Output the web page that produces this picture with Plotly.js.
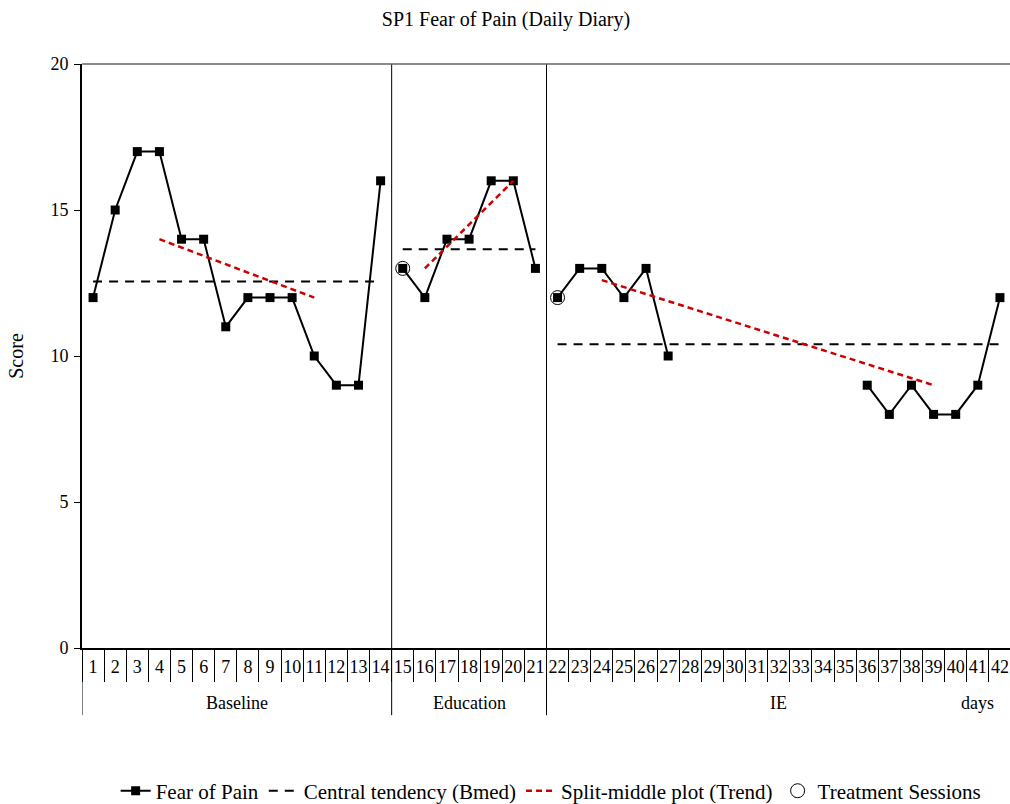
<!DOCTYPE html>
<html>
<head>
<meta charset="utf-8">
<script src="https://cdn.plot.ly/plotly-3.0.1.min.js"></script>
<style>
  html, body { margin: 0; padding: 0; overflow: hidden; background: #fff; }
  #chart { width: 1012px; height: 804px; }
</style>
</head>
<body>
<div id="chart"></div>
<script>
// Daily diary scores, days 1-42 (null = no entry)
const days = Array.from({length: 42}, (_, i) => i + 1);
const fearOfPain = [12, 15, 17, 17, 14, 14, 11, 12, 12, 12, 10, 9, 9, 16,
                    13, 12, 14, 14, 16, 16, 13,
                    12, 13, 13, 12, 13, 10, null, null, null, null, null, null, null, null,
                    9, 8, 9, 8, 8, 9, 12];

// Phases: [first day, last day]
const phaseNames = ['Baseline', 'Education', 'IE'];
const phaseStart = [1, 15, 22];
const phaseEnd = [14, 21, 42];

// Central tendency (Bmed) per phase
const bmed = [12.55, 13.66, 10.4];

// Split-middle trend lines per phase: [x0, x1], [y0, y1]
const trendX = [[4, 11], [16, 20], [24, 39]];
const trendY = [[14.0, 12.0], [13.0, 16.0], [12.6, 9.0]];

// Treatment session days
const sessionDays = [15, 22];

// Group label positions along the day axis
const groupLabels = ['Baseline', 'Education', 'IE', 'days'];
const groupLabelX = [7.5, 18, 32, 41];

const yTicks = [0, 5, 10, 15, 20];

const FONT = 'Liberation Serif, Times New Roman, serif';
const traces = [];

phaseNames.forEach((name, p) => {
  const xs = days.filter(d => d >= phaseStart[p] && d <= phaseEnd[p]);
  const ys = xs.map(d => fearOfPain[d - 1]);
  traces.push({
    x: xs, y: ys, type: 'scatter', mode: 'lines+markers',
    name: 'Fear of Pain', legendgroup: 'fop', showlegend: p === 0,
    connectgaps: false,
    line: {color: '#000', width: 2},
    marker: {symbol: 'square', size: 9, color: '#000'},
    cliponaxis: false
  });
});

phaseNames.forEach((name, p) => {
  traces.push({
    x: [phaseStart[p], phaseEnd[p]], y: [bmed[p], bmed[p]],
    type: 'scatter', mode: 'lines',
    name: 'Central tendency (Bmed)', legendgroup: 'bmed', showlegend: p === 0,
    line: {color: '#000', width: 2, dash: '9px,7px'}
  });
});

phaseNames.forEach((name, p) => {
  traces.push({
    x: trendX[p], y: trendY[p],
    type: 'scatter', mode: 'lines',
    name: 'Split-middle plot (Trend)', legendgroup: 'trend', showlegend: p === 0,
    line: {color: '#CC0000', width: 2.5, dash: '6px,4px'}
  });
});

traces.push({
  x: sessionDays, y: sessionDays.map(d => fearOfPain[d - 1]),
  type: 'scatter', mode: 'markers',
  name: 'Treatment Sessions',
  marker: {symbol: 'circle-open', size: 14, color: '#000', line: {width: 1, color: '#000'}},
  cliponaxis: false
});

// Category separators on the tick strip
const sepVals = Array.from({length: 43}, (_, i) => i + 0.5);
traces.push({
  x: [0.5], y: [null], xaxis: 'x2', yaxis: 'y', type: 'scatter', mode: 'lines',
  showlegend: false, hoverinfo: 'skip'
});

const shapes = [];
// Phase change lines through the plot and down through the label strip
[phaseEnd[0] + 0.5, phaseEnd[1] + 0.5].forEach(x => {
  shapes.push({type: 'line', xref: 'x', yref: 'paper', x0: x, x1: x, y0: 0, y1: 1,
               line: {color: '#000', width: 1}});
});
[0.5, phaseEnd[0] + 0.5, phaseEnd[1] + 0.5].forEach(x => {
  shapes.push({type: 'line', xref: 'x', yref: 'paper', x0: x, x1: x, y0: 0, y1: -0.115,
               line: {color: '#000', width: 1}});
});
// Top border
shapes.push({type: 'line', xref: 'paper', yref: 'paper', x0: 0, x1: 1, y0: 1, y1: 1,
             line: {color: '#666', width: 1.5}});

const annotations = groupLabels.map((t, i) => ({
  text: t, x: groupLabelX[i], xref: 'x', y: -0.094, yref: 'paper',
  showarrow: false, font: {family: FONT, size: 18, color: '#000'},
  xanchor: 'center', yanchor: 'middle'
}));

const layout = {
  width: 1012, height: 804,
  margin: {l: 82, r: 1, t: 64, b: 156, autoexpand: false},
  paper_bgcolor: '#fff', plot_bgcolor: '#fff',
  font: {family: FONT, size: 18, color: '#000'},
  title: {text: 'SP1 Fear of Pain (Daily Diary)', x: 0.5, xref: 'container', y: 0.976, yanchor: 'middle',
          font: {family: FONT, size: 20, color: '#000'}},
  xaxis: {
    range: [0.5, 42.5], tickmode: 'array', tickvals: days, ticktext: days.map(String),
    ticks: '', showgrid: false, zeroline: false, showline: true, linecolor: '#000', linewidth: 1.5,
    tickfont: {family: FONT, size: 18, color: '#000'}, ticklabelstandoff: 2, fixedrange: true,
    automargin: false
  },
  xaxis2: {
    overlaying: 'x', matches: 'x', range: [0.5, 42.5], tickmode: 'array', tickvals: sepVals,
    showticklabels: false, ticks: 'outside', ticklen: 33, tickwidth: 1, tickcolor: '#000',
    showgrid: false, zeroline: false, showline: false, side: 'bottom', anchor: 'y', automargin: false
  },
  yaxis: {
    range: [0, 20], tickmode: 'array', tickvals: yTicks, ticks: 'outside', ticklen: 6,
    tickcolor: '#000', tickwidth: 1, showgrid: false, zeroline: false,
    showline: true, linecolor: '#000', linewidth: 2, automargin: false,
    tickfont: {family: FONT, size: 18, color: '#000'}, ticklabelstandoff: 2,
    title: {text: 'Score', font: {family: FONT, size: 20, color: '#000'}, standoff: 21}
  },
  showlegend: true,
  legend: {
    orientation: 'h', x: 0.505, xanchor: 'center', y: -0.245, yanchor: 'middle',
    font: {family: FONT, size: 21, color: '#000'}, itemwidth: 30, tracegroupgap: 0,
    bgcolor: 'rgba(0,0,0,0)'
  },
  shapes: shapes,
  annotations: annotations
};

Plotly.newPlot('chart', traces, layout, {displayModeBar: false, staticPlot: true});
</script>
</body>
</html>
